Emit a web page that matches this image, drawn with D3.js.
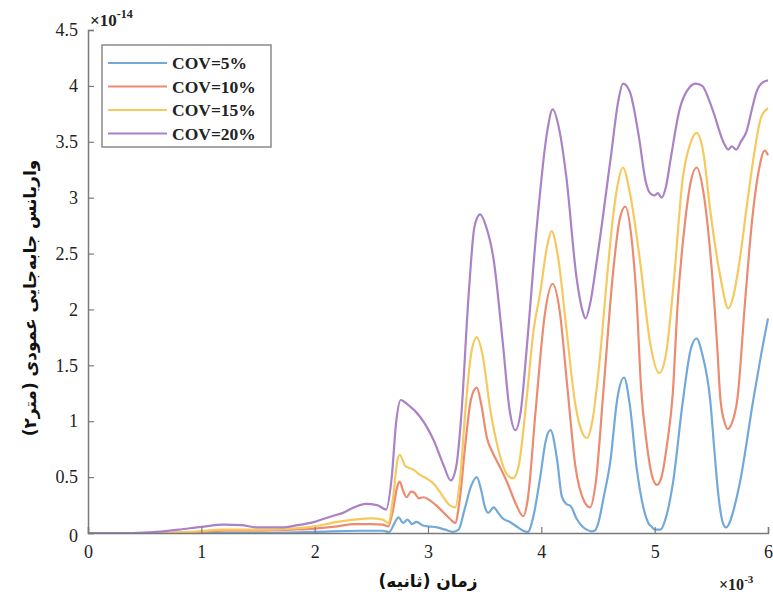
<!DOCTYPE html>
<html>
<head>
<meta charset="utf-8">
<script src="https://cdn.jsdelivr.net/npm/d3@7"></script>
<style>
  body { margin: 0; background: #fff; }
  svg { display: block; }
</style>
</head>
<body>
<svg id="chart" width="773" height="598"></svg>
<script>
// Variance of vertical displacement vs time, one curve per COV level

// --- Data (t in ms, variance in 1e-14 m^2) ---
const seriesNames = ['COV=5%', 'COV=10%', 'COV=15%', 'COV=20%'];
const seriesColors = ['#72a9da', '#ec8b70', '#f6c95f', '#aa82c6'];
const xTicks = [0, 1, 2, 3, 4, 5, 6];
const yTicks = [0, 0.5, 1, 1.5, 2, 2.5, 3, 3.5, 4, 4.5];

const cov5 = [[0,0],[1.5,0],[2.0,0.01],[2.4,0.02],[2.6,0.02],[2.66,0.01],[2.7,0.08],[2.74,0.14],[2.78,0.09],
  [2.82,0.12],[2.86,0.08],[2.9,0.10],[2.95,0.07],[3.0,0.06],[3.08,0.05],[3.15,0.03],[3.22,0.01],[3.27,0.03],
  [3.32,0.2],[3.38,0.42],[3.43,0.50],[3.47,0.38],[3.5,0.24],[3.53,0.18],[3.58,0.23],[3.62,0.18],[3.66,0.13],
  [3.72,0.10],[3.78,0.06],[3.84,0.02],[3.88,0.01],[3.93,0.15],[3.99,0.5],[4.04,0.83],[4.08,0.92],[4.14,0.65],
  [4.18,0.33],[4.22,0.26],[4.26,0.24],[4.31,0.13],[4.36,0.06],[4.4,0.03],[4.44,0.015],[4.47,0.02],[4.5,0.08],
  [4.55,0.32],[4.61,0.65],[4.67,1.2],[4.73,1.39],[4.78,1.15],[4.84,0.59],[4.9,0.23],[4.95,0.08],[4.97,0.06],
  [5.0,0.03],[5.05,0.03],[5.1,0.14],[5.16,0.44],[5.25,1.19],[5.32,1.65],[5.37,1.74],[5.42,1.6],[5.49,1.19],
  [5.53,0.7],[5.56,0.36],[5.59,0.14],[5.61,0.07],[5.63,0.05],[5.66,0.09],[5.7,0.22],[5.75,0.44],[5.87,1.19],
  [5.94,1.6],[6.0,1.92]];

const cov10 = [[0,0],[0.7,0],[1.0,0.01],[1.2,0.02],[1.5,0.02],[1.8,0.03],[2.0,0.04],[2.2,0.06],[2.35,0.08],
  [2.5,0.08],[2.6,0.075],[2.65,0.06],[2.69,0.2],[2.73,0.42],[2.75,0.46],[2.78,0.38],[2.81,0.32],[2.85,0.37],
  [2.88,0.36],[2.92,0.31],[2.96,0.32],[3.02,0.29],[3.08,0.24],[3.13,0.19],[3.19,0.13],[3.24,0.09],[3.28,0.3],
  [3.33,0.8],[3.38,1.2],[3.43,1.30],[3.47,1.15],[3.52,0.85],[3.57,0.72],[3.63,0.6],[3.7,0.45],[3.78,0.25],
  [3.84,0.15],[3.88,0.3],[3.95,1.1],[4.03,1.95],[4.1,2.23],[4.16,2.0],[4.23,1.3],[4.3,0.6],[4.38,0.28],
  [4.43,0.23],[4.48,0.45],[4.55,1.3],[4.63,2.3],[4.69,2.8],[4.74,2.92],[4.8,2.6],[4.84,2.1],[4.88,1.3],
  [4.93,0.8],[4.98,0.5],[5.02,0.43],[5.06,0.5],[5.11,0.8],[5.16,1.25],[5.2,2.0],[5.27,2.8],[5.32,3.15],
  [5.37,3.27],[5.43,3.05],[5.5,2.4],[5.55,1.7],[5.58,1.2],[5.62,0.98],[5.645,0.93],[5.68,0.98],[5.73,1.2],
  [5.8,2.1],[5.86,2.8],[5.92,3.25],[5.97,3.42],[6.0,3.38]];

const cov15 = [[0,0],[0.6,0],[0.9,0.01],[1.2,0.03],[1.5,0.03],[1.8,0.04],[2.0,0.06],[2.2,0.1],[2.35,0.12],
  [2.5,0.13],[2.6,0.12],[2.65,0.09],[2.69,0.3],[2.73,0.65],[2.75,0.70],[2.8,0.6],[2.84,0.58],[2.88,0.56],
  [2.93,0.52],[3.0,0.48],[3.06,0.43],[3.13,0.33],[3.19,0.25],[3.24,0.23],[3.28,0.45],[3.33,1.1],[3.38,1.6],
  [3.43,1.75],[3.48,1.6],[3.55,1.1],[3.62,0.75],[3.7,0.52],[3.75,0.49],[3.8,0.6],[3.87,1.2],[3.93,1.8],
  [3.99,2.15],[4.05,2.56],[4.09,2.70],[4.15,2.45],[4.22,1.84],[4.3,1.15],[4.36,0.9],[4.4,0.85],[4.45,1.0],
  [4.52,1.6],[4.58,2.29],[4.64,2.89],[4.68,3.15],[4.72,3.27],[4.78,3.05],[4.87,2.44],[4.96,1.7],[5.04,1.43],
  [5.1,1.6],[5.16,2.15],[5.25,3.19],[5.32,3.5],[5.37,3.58],[5.43,3.4],[5.49,2.89],[5.58,2.29],[5.65,2.01],
  [5.69,2.1],[5.75,2.44],[5.81,2.9],[5.87,3.34],[5.94,3.72],[6.0,3.80]];

const cov20 = [[0,0],[0.4,0],[0.6,0.01],[0.8,0.03],[1.0,0.055],[1.2,0.075],[1.35,0.07],[1.5,0.05],[1.7,0.05],
  [1.85,0.07],[2.0,0.10],[2.15,0.15],[2.25,0.18],[2.35,0.23],[2.45,0.26],[2.55,0.25],[2.63,0.21],[2.68,0.5],
  [2.72,1.0],[2.76,1.19],[2.82,1.15],[2.93,1.04],[3.05,0.83],[3.14,0.6],[3.2,0.47],[3.25,0.6],[3.29,1.0],
  [3.36,2.15],[3.41,2.74],[3.46,2.85],[3.51,2.75],[3.58,2.44],[3.66,1.7],[3.72,1.1],[3.77,0.92],[3.82,1.1],
  [3.87,1.64],[3.96,2.74],[4.05,3.58],[4.1,3.79],[4.16,3.6],[4.22,3.19],[4.31,2.29],[4.36,2.0],[4.39,1.92],
  [4.43,2.05],[4.49,2.44],[4.61,3.34],[4.68,3.87],[4.72,4.02],[4.78,3.95],[4.86,3.55],[4.92,3.15],[4.96,3.04],
  [5.0,3.02],[5.03,3.04],[5.06,3.0],[5.1,3.1],[5.14,3.34],[5.22,3.79],[5.31,3.99],[5.36,4.02],[5.42,4.0],
  [5.47,3.9],[5.52,3.76],[5.61,3.49],[5.65,3.43],[5.68,3.46],[5.72,3.43],[5.76,3.5],[5.81,3.59],[5.86,3.8],
  [5.9,3.95],[5.95,4.03],[6.0,4.05]];

const seriesData = [cov5, cov10, cov15, cov20];

// --- Layout ---
const svg = d3.select('#chart');
const margin = { left: 88, right: 5, top: 30, bottom: 65 };
const plotW = 768 - margin.left;
const plotH = 533 - margin.top;

const x = d3.scaleLinear().domain([0, 6]).range([margin.left, margin.left + plotW]);
const y = d3.scaleLinear().domain([0, 4.5]).range([margin.top + plotH, margin.top]);

const serif = '"Liberation Serif", "Times New Roman", serif';

// --- Curves ---
const line = d3.line()
    .x(d => x(d[0]))
    .y(d => y(d[1]))
    .curve(d3.curveMonotoneX);

svg.append('g')
    .selectAll('path')
    .data(seriesData)
    .join('path')
    .attr('d', line)
    .attr('fill', 'none')
    .attr('stroke', (d, i) => seriesColors[i])
    .attr('stroke-width', 2.2)
    .attr('stroke-linejoin', 'round');

// --- Axes ---
const xAxis = d3.axisBottom(x).tickValues(xTicks).tickSize(-6).tickPadding(12).tickFormat(d3.format('d'));
const yAxis = d3.axisLeft(y).tickValues(yTicks).tickSize(-6).tickPadding(10).tickFormat(d => d);

const gx = svg.append('g').attr('transform', `translate(0,${y(0)})`).call(xAxis);
const gy = svg.append('g').attr('transform', `translate(${x(0)},0)`).call(yAxis);

[gx, gy].forEach(g => {
    g.select('.domain').attr('stroke', '#7a7a7a').attr('stroke-width', 1.5);
    g.selectAll('.tick line').attr('stroke', '#7a7a7a').attr('stroke-width', 1.2);
    g.selectAll('.tick text')
        .attr('font-family', serif)
        .attr('font-size', 18)
        .attr('fill', '#222');
});
gy.select('.tick:first-of-type text').attr('dy', '0.45em');

// exponent labels
const expX = svg.append('text')
    .attr('x', 719).attr('y', 590)
    .attr('font-family', serif).attr('font-weight', 'bold')
    .attr('font-size', 16).attr('fill', '#222');
expX.append('tspan').text('×10');
expX.append('tspan').attr('dy', -7).attr('font-size', 11).text('-3');

const expY = svg.append('text')
    .attr('x', 90).attr('y', 26)
    .attr('font-family', serif).attr('font-weight', 'bold')
    .attr('font-size', 17).attr('fill', '#222');
expY.append('tspan').text('×10');
expY.append('tspan').attr('dy', -8).attr('font-size', 12).text('-14');

// --- Axis titles ---
svg.append('text')
    .attr('x', 428).attr('y', 587)
    .attr('text-anchor', 'middle')
    .attr('font-family', '"DejaVu Sans", sans-serif')
    .attr('font-weight', 'bold')
    .attr('font-size', 17)
    .attr('fill', '#111')
    .text('زمان (ثانیه)');

svg.append('text')
    .attr('transform', 'translate(36,298) rotate(-90)')
    .attr('text-anchor', 'middle')
    .attr('font-family', '"DejaVu Sans", sans-serif')
    .attr('font-weight', 'bold')
    .attr('font-size', 17)
    .attr('fill', '#111')
    .text('واریانس جابه‌جایی عمودی (متر۲)');

// --- Legend ---
const legend = svg.append('g').attr('transform', 'translate(102,45)');
legend.append('rect')
    .attr('width', 169).attr('height', 102)
    .attr('fill', '#fff')
    .attr('stroke', '#8a8a8a')
    .attr('stroke-width', 1.5);

const rows = legend.selectAll('g.row')
    .data(seriesNames)
    .join('g')
    .attr('class', 'row')
    .attr('transform', (d, i) => `translate(0,${18 + i * 23.5})`);

rows.append('line')
    .attr('x1', 6).attr('x2', 65)
    .attr('stroke', (d, i) => seriesColors[i])
    .attr('stroke-width', 2);

rows.append('text')
    .attr('x', 70).attr('dy', '0.35em')
    .attr('font-family', serif)
    .attr('font-weight', 'bold')
    .attr('font-size', 17.5)
    .attr('fill', '#222')
    .text(d => d);
</script>
</body>
</html>
